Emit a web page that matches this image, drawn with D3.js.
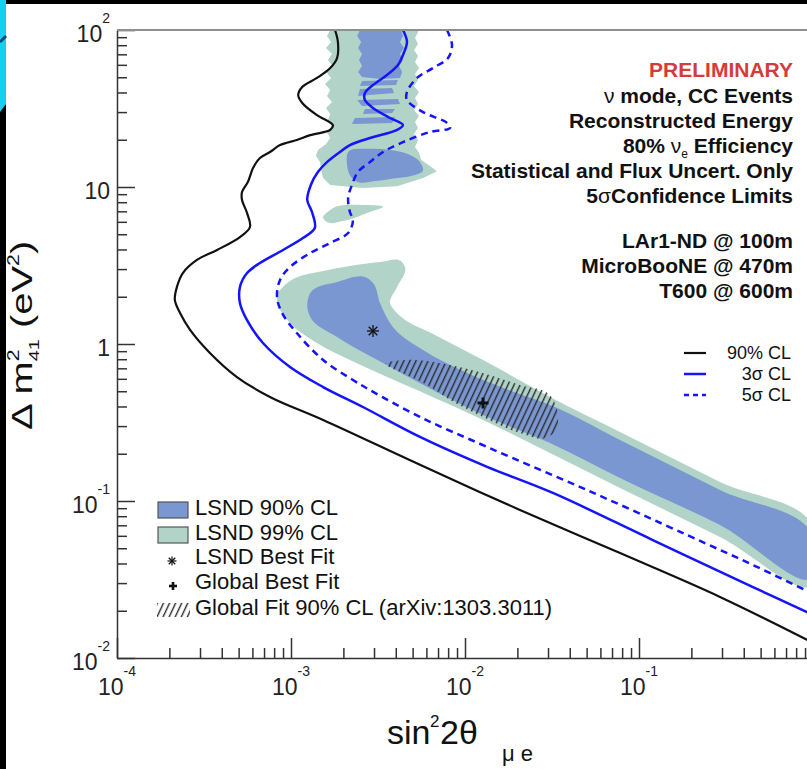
<!DOCTYPE html>
<html><head><meta charset="utf-8">
<script src="https://cdn.jsdelivr.net/npm/d3@7"></script>
<style>
body{margin:0;background:#fff;}
svg{display:block;font-family:"Liberation Sans",Arial,Helvetica,sans-serif;}
</style>
</head><body>
<svg id="chart" width="807" height="769"></svg>
<script>
// ---------------- DATA ----------------
const xDomain = [1e-4, 1];
const yDomain = [1e-2, 1e2];
const xTickExponents = [-4, -3, -2, -1, 0];
const yTickExponents = [-2, -1, 0, 1, 2];

// 90% CL sensitivity (black)
const cl90Line = [[1.79e-3,100],[1.86e-3,83.9],[1.84e-3,66.3],[1.68e-3,57.3],[1.41e-3,49.5],[1.16e-3,43.4],[1.10e-3,38.5],[1.16e-3,34.3],[1.41e-3,28.7],[1.74e-3,24.8],[1.68e-3,23.1],[1.29e-3,21.4],[1.08e-3,19.9],[8.65e-4,18.5],[7.57e-4,16.7],[6.63e-4,15.3],[6.05e-4,13.2],[5.66e-4,10.8],[5.23e-4,9.29],[5.23e-4,8.26],[5.59e-4,6.83],[5.81e-4,5.56],[5.09e-4,4.80],[3.76e-4,3.97],[2.88e-4,3.43],[2.39e-4,2.83],[2.21e-4,2.31],[2.15e-4,1.91],[2.30e-4,1.58],[2.63e-4,1.23],[3.42e-4,0.877],[4.89e-4,0.616],[7.57e-4,0.460],[1.53e-3,0.328],[5.51e-3,0.170],[2.07e-2,0.0877],[7.78e-2,0.0466],[0.292,0.0245],[1.0,0.0125]];

// 3 sigma sensitivity (blue solid)
const sigma3Line = [[4.40e-3,100],[4.64e-3,83.9],[4.40e-3,69.3],[4.12e-3,59.9],[3.56e-3,51.7],[2.96e-3,44.6],[2.66e-3,39.7],[2.66e-3,35.8],[2.96e-3,31.9],[3.71e-3,27.5],[4.40e-3,24.8],[4.07e-3,23.1],[2.84e-3,20.5],[2.18e-3,18.5],[1.91e-3,16.7],[1.61e-3,14.4],[1.43e-3,12.5],[1.30e-3,10.3],[1.24e-3,8.26],[1.32e-3,6.93],[1.37e-3,5.48],[1.17e-3,4.73],[9.00e-4,3.97],[6.63e-4,3.28],[5.59e-4,2.83],[5.09e-4,2.31],[5.09e-4,1.82],[5.59e-4,1.42],[6.90e-4,1.015],[9.87e-4,0.714],[1.53e-3,0.532],[2.59e-3,0.397],[5.51e-3,0.256],[1.34e-2,0.165],[3.20e-2,0.1125],[0.120,0.0564],[0.452,0.0283],[1.0,0.0188]];

// 5 sigma sensitivity (blue dashed)
const sigma5Line = [[7.88e-3,100],[8.42e-3,80.3],[7.99e-3,66.3],[6.55e-3,57.3],[5.30e-3,49.5],[4.64e-3,40.3],[4.64e-3,35.8],[5.74e-3,30.0],[7.88e-3,25.6],[8.20e-3,23.8],[6.29e-3,22.4],[4.40e-3,19.3],[3.38e-3,16.7],[2.84e-3,14.4],[2.43e-3,12.5],[2.24e-3,10.3],[2.13e-3,8.51],[2.18e-3,6.93],[2.27e-3,6.16],[2.13e-3,5.09],[1.68e-3,4.40],[1.29e-3,3.80],[9.87e-4,3.09],[8.65e-4,2.56],[8.31e-4,1.99],[8.88e-4,1.58],[1.08e-3,1.175],[1.53e-3,0.791],[2.27e-3,0.590],[2.84e-3,0.509],[5.51e-3,0.343],[1.34e-2,0.221],[5.02e-2,0.1175],[0.189,0.0607],[0.452,0.0391],[1.0,0.0256]];

// LSND allowed regions
const lsnd99Lower = [[8.31e-4,2.05],[9.00e-4,2.31],[1.03e-3,2.59],[1.53e-3,2.92],[2.18e-3,3.14],[3.25e-3,3.33],[4.30e-3,3.36],[4.52e-3,3.08],[4.07e-3,2.31],[3.71e-3,1.82],[4.01e-3,1.60],[4.40e-3,1.46],[6.55e-3,1.16],[1.27e-2,0.791],[3.08e-2,0.460],[7.78e-2,0.275],[0.292,0.132],[1.0,0.0683],[1.0,0.0296],[0.292,0.0590],[7.78e-2,0.121],[3.08e-2,0.202],[1.27e-2,0.328],[5.30e-3,0.509],[2.18e-3,0.791],[1.41e-3,1.015],[9.87e-4,1.36],[8.65e-4,1.65],[8.31e-4,1.91]];
const lsnd90Lower = [[1.24e-3,1.72],[1.29e-3,2.11],[1.84e-3,2.48],[2.74e-3,2.63],[2.96e-3,2.45],[3.25e-3,1.82],[3.86e-3,1.28],[5.74e-3,0.916],[1.03e-2,0.654],[1.99e-2,0.487],[3.08e-2,0.409],[7.78e-2,0.245],[0.292,0.1175],[1.0,0.0581],[1.0,0.0338],[0.292,0.0703],[7.78e-2,0.140],[3.08e-2,0.234],[1.27e-2,0.353],[6.55e-3,0.509],[3.38e-3,0.757],[1.84e-3,1.108],[1.29e-3,1.486]];
const lsnd99Upper = [[1.68e-3,100],[1.61e-3,91.6],[1.70e-3,83.9],[1.59e-3,76.8],[1.72e-3,70.3],[1.63e-3,64.4],[1.74e-3,59.0],[1.59e-3,54.0],[1.70e-3,49.5],[1.57e-3,45.3],[1.68e-3,41.5],[1.61e-3,38.0],[1.72e-3,34.8],[1.59e-3,31.9],[1.68e-3,29.2],[1.63e-3,26.7],[1.72e-3,24.5],[1.61e-3,22.4],[1.68e-3,20.5],[1.59e-3,18.8],[1.43e-3,17.2],[1.39e-3,15.8],[1.47e-3,14.4],[1.49e-3,12.8],[1.53e-3,11.4],[1.68e-3,10.3],[2.59e-3,9.85],[4.07e-3,10.1],[5.74e-3,11.4],[6.90e-3,12.6],[6.29e-3,13.6],[5.59e-3,14.9],[5.44e-3,16.5],[5.16e-3,18.0],[5.37e-3,19.9],[5.09e-3,21.8],[5.37e-3,23.8],[5.16e-3,25.9],[5.44e-3,28.3],[5.09e-3,30.9],[5.37e-3,33.8],[5.16e-3,36.9],[5.44e-3,40.3],[5.09e-3,44.0],[5.37e-3,48.0],[5.16e-3,52.4],[5.44e-3,57.3],[5.16e-3,62.5],[5.37e-3,68.3],[5.09e-3,74.6],[5.37e-3,81.4],[5.16e-3,88.9],[5.37e-3,97.1],[5.37e-3,100]];
const lsnd99Island = [[1.53e-3,6.35],[1.68e-3,7.14],[2.59e-3,7.68],[3.38e-3,7.46],[2.84e-3,6.93],[1.99e-3,6.07],[1.61e-3,5.98]];
const lsnd90Upper = [[2.49e-3,100],[2.40e-3,91.6],[2.53e-3,83.9],[2.43e-3,76.8],[2.56e-3,70.3],[2.46e-3,64.4],[2.56e-3,59.0],[2.43e-3,54.0],[2.56e-3,50.2],[3.25e-3,48.7],[4.23e-3,49.5],[4.35e-3,54.0],[4.18e-3,59.0],[4.40e-3,64.4],[4.23e-3,70.3],[4.46e-3,76.8],[4.23e-3,83.9],[4.40e-3,91.6],[4.29e-3,100]];
const lsnd90Strip1 = [[2.56e-3,47.3],[4.12e-3,48.0],[4.01e-3,44.6],[2.49e-3,44.0]];
const lsnd90Strip2 = [[2.49e-3,42.1],[3.81e-3,42.7],[3.91e-3,39.7],[2.43e-3,38.0]];
const lsnd90Strip3 = [[2.40e-3,35.8],[4.12e-3,36.4],[4.23e-3,33.8],[2.56e-3,32.8]];
const lsnd90Strip4 = [[2.66e-3,31.4],[3.96e-3,31.4],[3.81e-3,29.6],[2.59e-3,29.2]];
const lsnd90Strip5 = [[2.33e-3,27.5],[3.96e-3,27.9],[3.81e-3,25.6],[2.24e-3,25.2]];
const lsnd90Blob = [[2.13e-3,16.7],[2.84e-3,17.5],[3.71e-3,17.2],[4.83e-3,16.0],[5.37e-3,14.9],[5.74e-3,12.8],[4.83e-3,11.7],[4.07e-3,11.4],[3.04e-3,10.9],[2.40e-3,10.8],[2.18e-3,11.9],[2.10e-3,13.8]];

// Global fit 90% CL (hatched)
const globalFit90 = [[3.47e-3,0.746],[4.52e-3,0.791],[6.05e-3,0.779],[8.76e-3,0.724],[1.27e-2,0.654],[2.07e-2,0.548],[3.08e-2,0.473],[3.42e-2,0.353],[3.29e-2,0.275],[2.88e-2,0.252],[2.07e-2,0.271],[1.27e-2,0.343],[8.20e-3,0.440],[6.05e-3,0.548],[4.23e-3,0.663]];

const lsndBestFit = [2.96e-3, 1.21];
const globalBestFit = [1.27e-2, 0.421];

const lineLegendLabels = ["90% CL", "3σ CL", "5σ CL"];
const regionLegendLabels = ["LSND 90% CL", "LSND 99% CL", "LSND Best Fit", "Global Best Fit", "Global Fit 90% CL (arXiv:1303.3011)"];

const infoLines = [
  [["PRELIMINARY","red"]],
  [["ν ","g"],[" mode, CC Events","b"]],
  [["Reconstructed Energy","b"]],
  [["80% ","b"],["ν","g"],["e","sub"],[" Efficiency","b"]],
  [["Statistical and Flux Uncert. Only","b"]],
  [["5","b"],["σ","g"],["Confidence Limits","b"]],
  [["LAr1-ND @ 100m","b"]],
  [["MicroBooNE @ 470m","b"]],
  [["T600 @ 600m","b"]]
];

// ---------------- DRAWING ----------------
const C90 = "#7a97d1", C99 = "#b2d3c8", BLUE = "#1414ff";
const svg = d3.select("#chart");
const L = 117, R = 813, T = 30, B = 658;
const x = d3.scaleLog().domain(xDomain).range([L, R]);
const y = d3.scaleLog().domain(yDomain).range([B, T]);

// slide decoration
svg.append("rect").attr("x",0).attr("y",0).attr("width",807).attr("height",4).attr("fill","#000");
svg.append("rect").attr("x",0).attr("y",0).attr("width",6).attr("height",769).attr("fill","#000");
svg.append("polygon").attr("points","0,0 6,0 6,104 0,112").attr("fill","#16cff2");
svg.append("line").attr("x1",0).attr("y1",42).attr("x2",6).attr("y2",36).attr("stroke","#0b4f78").attr("stroke-width",3);

const defs = svg.append("defs");
defs.append("clipPath").attr("id","plotclip").append("rect")
  .attr("x",L).attr("y",T).attr("width",R-L).attr("height",B-T);
const pat = defs.append("pattern").attr("id","hatch").attr("patternUnits","userSpaceOnUse")
  .attr("width",5.5).attr("height",12).attr("patternTransform","rotate(25)");
pat.append("line").attr("x1",1.5).attr("y1",0).attr("x2",1.5).attr("y2",12)
  .attr("stroke","#2a2a2a").attr("stroke-width",1.4);

const plot = svg.append("g").attr("clip-path","url(#plotclip)");
const jagged = d3.line().x(d=>x(d[0])).y(d=>y(d[1])).curve(d3.curveLinearClosed);
const smoothArea = d3.line().x(d=>x(d[0])).y(d=>y(d[1])).curve(d3.curveCatmullRomClosed.alpha(1));

plot.append("path").attr("d", jagged(lsnd99Upper)).attr("fill",C99);
plot.append("path").attr("d", smoothArea(lsnd99Island)).attr("fill",C99);
plot.append("path").attr("d", smoothArea(lsnd99Lower)).attr("fill",C99);
[lsnd90Upper, lsnd90Strip1, lsnd90Strip2, lsnd90Strip3, lsnd90Strip4, lsnd90Strip5].forEach(p=>{
  plot.append("path").attr("d", jagged(p)).attr("fill",C90);
});
plot.append("path").attr("d", smoothArea(lsnd90Blob)).attr("fill",C90);
plot.append("path").attr("d", smoothArea(lsnd90Lower)).attr("fill",C90);
plot.append("path").attr("d", smoothArea(globalFit90)).attr("fill","url(#hatch)");

const line = d3.line().x(d=>x(d[0])).y(d=>y(d[1])).curve(d3.curveCatmullRom.alpha(0.5));
plot.append("path").attr("d", line(cl90Line)).attr("fill","none").attr("stroke","#111").attr("stroke-width",2.2);
plot.append("path").attr("d", line(sigma3Line)).attr("fill","none").attr("stroke",BLUE).attr("stroke-width",2.5);
plot.append("path").attr("d", line(sigma5Line)).attr("fill","none").attr("stroke",BLUE).attr("stroke-width",2.5).attr("stroke-dasharray","7,5");

// markers
function star(g, cx, cy, r, w){
  [[r,0],[0,r],[r*0.72,r*0.72],[r*0.72,-r*0.72]].forEach(([dx,dy])=>{
    g.append("line").attr("x1",cx-dx).attr("y1",cy-dy).attr("x2",cx+dx).attr("y2",cy+dy)
      .attr("stroke","#111").attr("stroke-width",w);
  });
}
function plus(g, cx, cy, r, w){
  g.append("line").attr("x1",cx-r).attr("y1",cy).attr("x2",cx+r).attr("y2",cy).attr("stroke","#111").attr("stroke-width",w);
  g.append("line").attr("x1",cx).attr("y1",cy-r).attr("x2",cx).attr("y2",cy+r).attr("stroke","#111").attr("stroke-width",w);
}
star(plot, x(lsndBestFit[0]), y(lsndBestFit[1]), 6, 1.3);
plus(plot, x(globalBestFit[0]), y(globalBestFit[1]), 5.5, 3);

// axes
const axisColor = "#333";
const xMinor = d3.range(-4,0).flatMap(k=>d3.range(2,10).map(m=>m*Math.pow(10,k)));
const yMinor = d3.range(-2,2).flatMap(k=>d3.range(2,10).map(m=>m*Math.pow(10,k)));
const xMajor = xTickExponents.map(e=>Math.pow(10,e));
const yMajor = yTickExponents.map(e=>Math.pow(10,e));

function styleAxis(g){
  g.selectAll("path,line").attr("stroke",axisColor).attr("stroke-width",1.5);
  g.selectAll("text").remove();
}
svg.append("g").attr("transform",`translate(0,${B})`)
  .call(d3.axisBottom(x).tickValues(xMinor).tickSize(-10).tickSizeOuter(0).tickFormat(""))
  .call(styleAxis);
svg.append("g").attr("transform",`translate(0,${B})`)
  .call(d3.axisBottom(x).tickValues(xMajor).tickSize(-20).tickSizeOuter(0).tickFormat(""))
  .call(styleAxis).call(g=>g.select(".domain").remove());
svg.append("g").attr("transform",`translate(${L},0)`)
  .call(d3.axisLeft(y).tickValues(yMinor).tickSize(-10).tickSizeOuter(0).tickFormat(""))
  .call(styleAxis);
svg.append("g").attr("transform",`translate(${L},0)`)
  .call(d3.axisLeft(y).tickValues(yMajor).tickSize(-18).tickSizeOuter(0).tickFormat(""))
  .call(styleAxis).call(g=>g.select(".domain").remove());
svg.append("line").attr("x1",L).attr("y1",T).attr("x2",807).attr("y2",T)
  .attr("stroke","#8f8f8f").attr("stroke-width",2);

// tick labels
function tickLabel(sel, e, showTen){
  if(e===0){ sel.text("1"); return; }
  sel.append("tspan").text("10");
  if(!(e===1 && showTen)) sel.append("tspan").attr("font-size",14).attr("dy",-19).text(String(e));
}
xTickExponents.forEach(e=>{
  const t = svg.append("text").attr("x",x(Math.pow(10,e))).attr("y",695)
    .attr("text-anchor","middle").attr("font-size",23).attr("fill","#222");
  tickLabel(t, e, false);
});
yTickExponents.forEach(e=>{
  const t = svg.append("text").attr("x",110).attr("y",y(Math.pow(10,e))+12)
    .attr("text-anchor","end").attr("font-size",23).attr("fill","#222");
  tickLabel(t, e, true);
});

// axis titles
const xt = svg.append("text").attr("y",744).attr("fill","#111").attr("font-size",34);
xt.append("tspan").attr("x",387).text("sin");
xt.append("tspan").attr("x",430).attr("font-size",17).attr("dy",-17).text("2");
xt.append("tspan").attr("x",440).attr("dy",17).text("2θ");
xt.append("tspan").attr("x",502).attr("font-size",22).attr("dy",17).text("μ e");

const yt = svg.append("g").attr("transform","translate(32,430) rotate(-90) scale(1.33,1)")
  .append("text").attr("x",0).attr("y",0).attr("fill","#111").attr("font-size",30);
yt.append("tspan").text("Δ m");
yt.append("tspan").attr("font-size",16).attr("dy",-13).text("2");
yt.append("tspan").attr("font-size",15).attr("dx",-8.9).attr("dy",20).text("41");
yt.append("tspan").attr("dy",-7).text(" (eV");
yt.append("tspan").attr("font-size",16).attr("dy",-13).text("2");
yt.append("tspan").attr("dy",13).text(")");

// info block
const infoY = [77,103,128,153,178,203,248,273,298];
infoLines.forEach((segs,i)=>{
  const t = svg.append("text").attr("x",793).attr("y",infoY[i]).attr("text-anchor","end")
    .attr("font-size",21).attr("font-weight","bold").attr("fill","#111");
  let prevSub = false;
  segs.forEach(([s,k])=>{
    const ts = t.append("tspan").text(s);
    if(k==="red") ts.attr("fill","#d43b3b");
    if(k==="g") ts.attr("font-weight","normal");
    if(k==="sub"){ ts.attr("font-size",12).attr("font-weight","normal").attr("dy",5); prevSub = true; }
    else if(prevSub){ ts.attr("dy",-5); prevSub = false; }
  });
});

// line legend (right)
const lineLegY = [353,374,395];
const lineStyles = [{c:"#111",w:2.2,d:null},{c:BLUE,w:2.5,d:null},{c:BLUE,w:2.5,d:"5,4"}];
lineLegendLabels.forEach((lab,i)=>{
  const st = lineStyles[i];
  svg.append("line").attr("x1",684).attr("x2",706).attr("y1",lineLegY[i]).attr("y2",lineLegY[i])
    .attr("stroke",st.c).attr("stroke-width",st.w).attr("stroke-dasharray",st.d);
  svg.append("text").attr("x",791).attr("y",lineLegY[i]+6).attr("text-anchor","end")
    .attr("font-size",18).attr("fill","#111").text(lab);
});

// region legend (left)
const regLegY = [515,540,564,589,615];
regionLegendLabels.forEach((lab,i)=>{
  svg.append("text").attr("x",195).attr("y",regLegY[i]).attr("font-size",22).attr("fill","#111").text(lab);
});
svg.append("rect").attr("x",158).attr("y",502).attr("width",30).attr("height",16).attr("fill",C90).attr("stroke","#555").attr("stroke-width",1.2);
svg.append("rect").attr("x",158).attr("y",527).attr("width",30).attr("height",16).attr("fill",C99).attr("stroke","#555").attr("stroke-width",1.2);
star(svg, 172, 561, 4.5, 1.2);
plus(svg, 173, 586, 4, 2.6);
svg.append("rect").attr("x",157).attr("y",603).attr("width",33).attr("height",14).attr("fill","url(#hatch)");
</script>
</body></html>
